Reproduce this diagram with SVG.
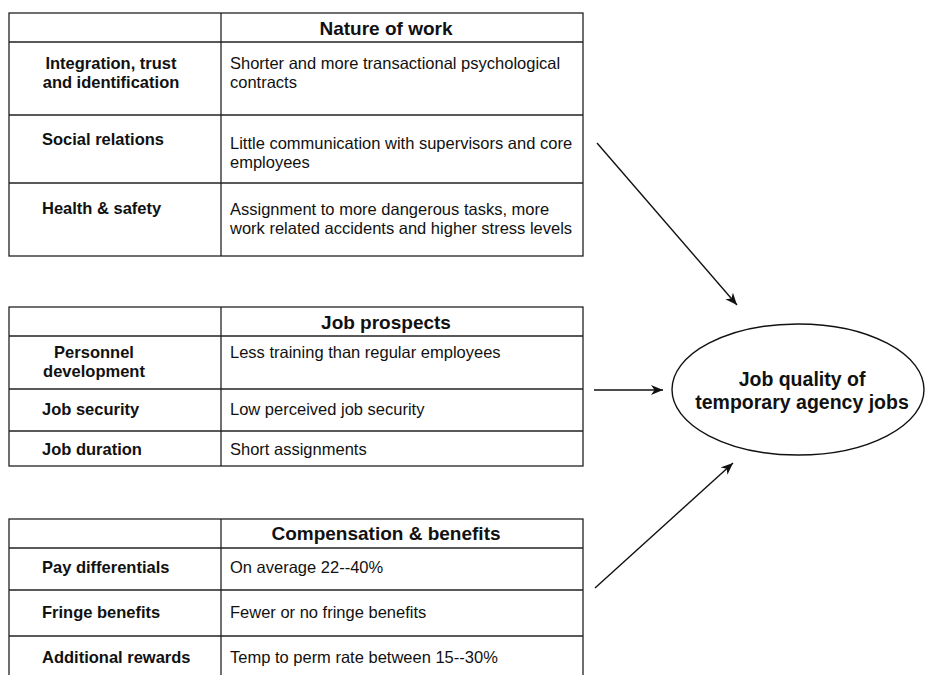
<svg xmlns="http://www.w3.org/2000/svg" width="928" height="675" viewBox="0 0 928 675">
<style>
.tb{fill:#fff;stroke:#222;stroke-width:1.3}
.ln{stroke:#222;stroke-width:1.3;fill:none}
text{font-family:"Liberation Sans",Arial,Helvetica,sans-serif;fill:#111}
.h{font-size:19px;font-weight:bold;text-anchor:middle}
.l{font-size:16.5px;font-weight:bold}
.lc{font-size:16.5px;font-weight:bold;text-anchor:middle}
.b{font-size:16.5px}
.e{font-size:19.5px;font-weight:bold;text-anchor:middle}
.ar{stroke:#111;stroke-width:1.4;fill:none;marker-end:url(#ah)}
</style>
<defs>
<marker id="ah" markerUnits="userSpaceOnUse" markerWidth="14" markerHeight="12" refX="12" refY="5" orient="auto">
<path d="M0,0 L12,5 L0,10 L3.5,5 Z" fill="#111"/>
</marker>
</defs>
<rect width="928" height="675" fill="#fff"/>
<g id="table-nature-of-work">
<rect class="tb" x="9" y="13" width="574" height="243"/>
<line class="ln" x1="221" y1="13" x2="221" y2="256"/>
<line class="ln" x1="9" y1="42" x2="583" y2="42"/>
<line class="ln" x1="9" y1="115" x2="583" y2="115"/>
<line class="ln" x1="9" y1="183" x2="583" y2="183"/>
<text class="h" x="386" y="35">Nature of work</text>
<text class="lc" x="111" y="69">Integration, trust</text>
<text class="lc" x="111" y="88">and identification</text>
<text class="b" x="230" y="69">Shorter and more transactional psychological</text>
<text class="b" x="230" y="88">contracts</text>
<text class="l" x="42" y="145">Social relations</text>
<text class="b" x="230" y="149">Little communication with supervisors and core</text>
<text class="b" x="230" y="168">employees</text>
<text class="l" x="42" y="214">Health &amp; safety</text>
<text class="b" x="230" y="215">Assignment to more dangerous tasks, more</text>
<text class="b" x="230" y="234">work related accidents and higher stress levels</text>
</g>
<g id="table-job-prospects">
<rect class="tb" x="9" y="307" width="574" height="159"/>
<line class="ln" x1="221" y1="307" x2="221" y2="466"/>
<line class="ln" x1="9" y1="336" x2="583" y2="336"/>
<line class="ln" x1="9" y1="389" x2="583" y2="389"/>
<line class="ln" x1="9" y1="431" x2="583" y2="431"/>
<text class="h" x="386" y="329">Job prospects</text>
<text class="lc" x="94" y="358">Personnel</text>
<text class="lc" x="94" y="377">development</text>
<text class="b" x="230" y="358">Less training than regular employees</text>
<text class="l" x="42" y="415">Job security</text>
<text class="b" x="230" y="415">Low perceived job security</text>
<text class="l" x="42" y="455">Job duration</text>
<text class="b" x="230" y="455">Short assignments</text>
</g>
<g id="table-compensation">
<rect class="tb" x="9" y="519" width="574" height="180"/>
<line class="ln" x1="221" y1="519" x2="221" y2="699"/>
<line class="ln" x1="9" y1="548" x2="583" y2="548"/>
<line class="ln" x1="9" y1="590" x2="583" y2="590"/>
<line class="ln" x1="9" y1="636" x2="583" y2="636"/>
<text class="h" x="386" y="540">Compensation &amp; benefits</text>
<text class="l" x="42" y="573">Pay differentials</text>
<text class="b" x="230" y="573">On average 22--40%</text>
<text class="l" x="42" y="618">Fringe benefits</text>
<text class="b" x="230" y="618">Fewer or no fringe benefits</text>
<text class="l" x="42" y="663">Additional rewards</text>
<text class="b" x="230" y="663">Temp to perm rate between 15--30%</text>
</g>
<g id="job-quality">
<ellipse cx="798" cy="389.5" rx="126" ry="65.5" fill="#fff" stroke="#111" stroke-width="1.4"/>
<text class="e" x="802" y="386">Job quality of</text>
<text class="e" x="802" y="409">temporary agency jobs</text>
</g>
<g id="connectors">
<line class="ar" x1="597" y1="143" x2="737" y2="305"/>
<line class="ar" x1="594" y1="390" x2="663" y2="390"/>
<line class="ar" x1="595" y1="588" x2="733" y2="463"/>
</g>
</svg>
